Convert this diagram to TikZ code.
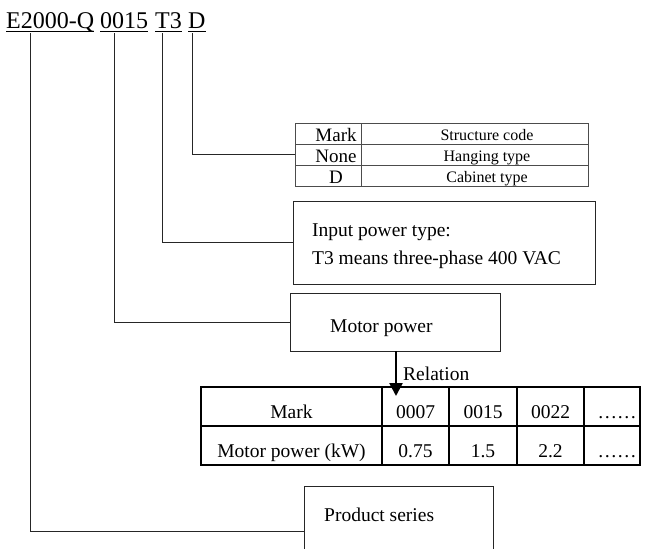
\documentclass[tikz,border=0pt]{standalone}
\usepackage{fontspec}
\setmainfont{Liberation Serif}
\usetikzlibrary{arrows.meta}
\begin{document}
\begin{tikzpicture}[x=1pt,y=-1pt,
  conn/.style={line width=0.9pt, draw=black!85},
  box/.style={draw=black!85, line width=0.9pt, inner sep=0pt},
  scell/.style={draw=black!70, line width=0.8pt, inner sep=0pt, minimum height=21pt},
  mcell/.style={draw=black, line width=1.8pt, inner sep=0pt, minimum height=39pt},
  txt/.style={inner sep=0pt, font=\fontsize{19.5}{23}\selectfont},
  btxt/.style={txt, anchor=base},
  ttl/.style={inner sep=0pt, anchor=base west, font=\fontsize{24}{28}\selectfont},
  stl/.style={inner sep=0pt, font=\fontsize{19}{21}\selectfont},
  str/.style={inner sep=0pt, font=\fontsize{16}{18}\selectfont},
  uline/.style={line width=1.3pt}
]
\useasboundingbox (0,0) rectangle (646,549);

% title
\node[ttl] (t1) at (6,28) {E2000-Q};
\node[ttl] (t2) at (100,28) {0015};
\node[ttl] (t3) at (155,28) {T3};
\node[ttl] (t4) at (188,28) {D};
\foreach \n in {t1,t2,t3,t4}{
  \draw[uline] ([yshift=-3.5pt]\n.base west) -- ([yshift=-3.5pt]\n.base east);
}
\coordinate (a1) at (30,33);
\coordinate (a2) at (114,33);
\coordinate (a3) at (162,33);
\coordinate (a4) at (192,33);

% structure code table
\node[scell, minimum width=66pt] (s11) at (328,133.5) {};
\node[scell, minimum width=227pt] (s12) at (474.5,133.5) {};
\node[scell, minimum width=66pt] (s21) at (328,154.5) {};
\node[scell, minimum width=227pt] (s22) at (474.5,154.5) {};
\node[scell, minimum width=66pt] (s31) at (328,175.5) {};
\node[scell, minimum width=227pt] (s32) at (474.5,175.5) {};
\node[stl, anchor=base] (sl1) at (336,141) {Mark};
\node[stl, anchor=base] (sl2) at (336,162) {None};
\node[stl, anchor=base] (sl3) at (336,183) {D};
\node[str, anchor=base] (sr1) at (487,140) {Structure code};
\node[str, anchor=base] (sr2) at (487,161) {Hanging type};
\node[str, anchor=base] (sr3) at (487,182) {Cabinet type};

% input power box
\node[box, minimum width=302pt, minimum height=83pt] (ip) at (444,242.5) {};
\node[txt, anchor=base west] (ip1) at (312,236) {Input power type:};
\node[txt, anchor=base west] (ip2) at (312,264) {T3 means three-phase 400 VAC};

% motor power box
\node[box, minimum width=210pt, minimum height=58pt] (mp) at (395,322) {};
\node[txt, anchor=base west] (mpt) at (330,332) {Motor power};

% product series box (open at bottom)
\node[box, minimum width=189pt, minimum height=90pt] (ps) at (398.5,531) {};
\node[txt, anchor=base west] (pst) at (324,521) {Product series};

% motor table
\node[mcell, minimum width=181pt] (m11) at (291.5,406.5) {};
\node[mcell, minimum width=67pt] (m12) at (415.5,406.5) {};
\node[mcell, minimum width=68pt] (m13) at (483,406.5) {};
\node[mcell, minimum width=67pt] (m14) at (550.5,406.5) {};
\node[mcell, minimum width=56pt] (m15) at (612,406.5) {};
\node[mcell, minimum width=181pt] (m21) at (291.5,445.5) {};
\node[mcell, minimum width=67pt] (m22) at (415.5,445.5) {};
\node[mcell, minimum width=68pt] (m23) at (483,445.5) {};
\node[mcell, minimum width=67pt] (m24) at (550.5,445.5) {};
\node[mcell, minimum width=56pt] (m25) at (612,445.5) {};
\node[btxt] (k11) at (291.5,418) {Mark};
\node[btxt] (k12) at (415.5,418) {0007};
\node[btxt] (k13) at (483,418) {0015};
\node[btxt] (k14) at (550.5,418) {0022};
\node[btxt] (k15) at (617,418) {……};
\node[btxt] (k21) at (291.5,457) {Motor power (kW)};
\node[btxt] (k22) at (415.5,457) {0.75};
\node[btxt] (k23) at (483,457) {1.5};
\node[btxt] (k24) at (550.5,457) {2.2};
\node[btxt] (k25) at (617,457) {……};

% connectors
\draw[conn] (a4) |- (s21.west);
\draw[conn] (a3) |- (ip.west);
\draw[conn] (a2) |- (mp.west);
\draw[conn] (a1) |- (ps.west);

% relation arrow
\coordinate (tip) at (396,396);
\draw[line width=2.4pt, -{Triangle[width=13pt,length=13pt]}] (mp.south -| tip) -- (tip);
\node[txt, anchor=base west] (rel) at (403,380) {Relation};
\end{tikzpicture}
\end{document}
